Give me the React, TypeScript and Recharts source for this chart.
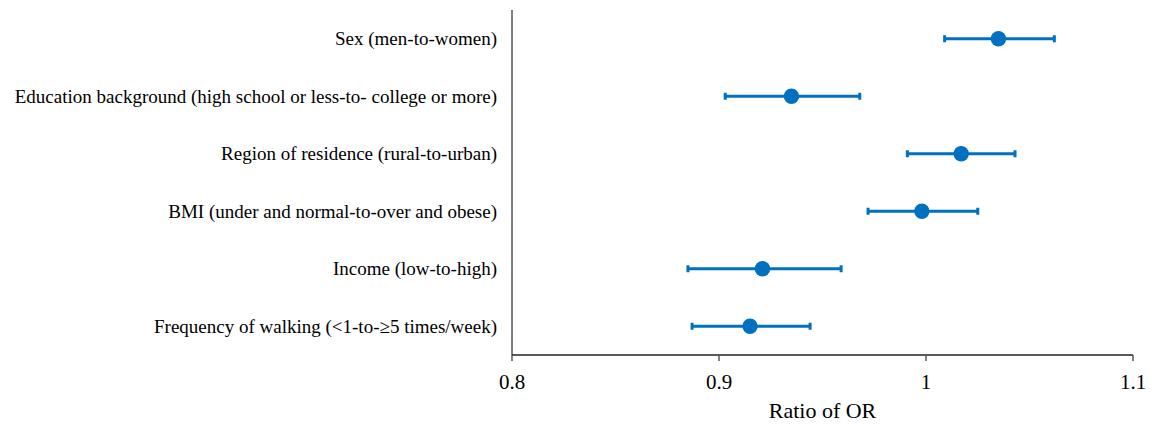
import { ScatterChart, Scatter, XAxis, YAxis, ErrorBar, Label } from 'recharts'

const factors = [
  'Sex (men-to-women)',
  'Education background (high school or less-to- college or more)',
  'Region of residence (rural-to-urban)',
  'BMI (under and normal-to-over and obese)',
  'Income (low-to-high)',
  'Frequency of walking (<1-to-≥5 times/week)',
]
const ratioOR = [1.035, 0.935, 1.017, 0.998, 0.921, 0.915]
const lowerCI = [1.009, 0.903, 0.991, 0.972, 0.885, 0.887]
const upperCI = [1.062, 0.968, 1.043, 1.025, 0.959, 0.944]
const xTicks = [0.8, 0.9, 1, 1.1]

const BLUE = '#0070C0'
const FONT = '"Liberation Serif", "Times New Roman", serif'

const data = factors.map((name, i) => ({
  name,
  or: ratioOR[i],
  err: [ratioOR[i] - lowerCI[i], upperCI[i] - ratioOR[i]],
}))

const Dot = (props: any) => <circle cx={props.cx} cy={props.cy} r={7.7} fill={BLUE} />

export default function App() {
  return (
    <div style={{ position: 'absolute', left: 0, top: 0, background: '#fff', fontFamily: FONT }}>
      <ScatterChart width={1160} height={424} margin={{ top: 10, right: 27, bottom: 0, left: 0 }} style={{ fontFamily: FONT }}>
        <XAxis
          type="number"
          dataKey="or"
          domain={[0.8, 1.1]}
          ticks={xTicks}
          tickFormatter={(v: number) => String(v)}
          height={69}
          axisLine={{ stroke: '#595959', strokeWidth: 2 }}
          tickLine={{ stroke: '#595959', strokeWidth: 1.5 }}
          tickSize={6}
          tickMargin={13}
          tick={{ fill: '#000', fontSize: 21, fontFamily: FONT }}
        >
          <Label value="Ratio of OR" position="insideBottom" offset={6} style={{ fill: '#000', fontSize: 22, fontFamily: FONT }} />
        </XAxis>
        <YAxis
          type="category"
          dataKey="name"
          reversed
          width={512}
          axisLine={{ stroke: '#000', strokeWidth: 1 }}
          tickLine={false}
          tickSize={0}
          tickMargin={15}
          interval={0}
          tick={{ fill: '#000', fontSize: 19, fontFamily: FONT }}
        />
        <Scatter data={data} fill={BLUE} shape={Dot} isAnimationActive={false}>
          <ErrorBar dataKey="err" direction="x" width={3.5} stroke={BLUE} strokeWidth={3} isAnimationActive={false} />
        </Scatter>
      </ScatterChart>
    </div>
  )
}
